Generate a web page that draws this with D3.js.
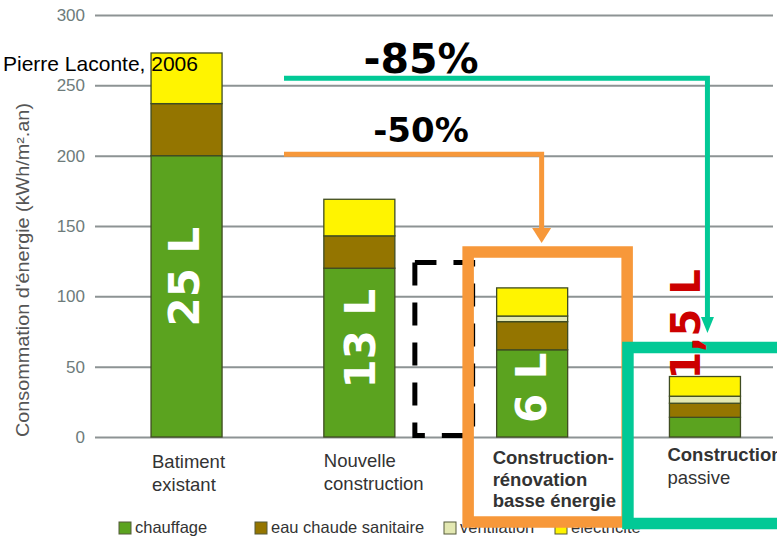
<!DOCTYPE html>
<html>
<head>
<meta charset="utf-8">
<script src="https://cdn.jsdelivr.net/npm/d3@7"></script>
<style>
  html, body { margin: 0; padding: 0; background: #fff; }
  svg { display: block; }
</style>
</head>
<body>
<svg id="chart" width="777" height="539"></svg>
<script>
// Building types (x categories), split over the lines shown under each bar
const categories = ["Batiment existant", "Nouvelle construction", "Construction-rénovation basse énergie", "Construction passive"];
const categoryLines = [["Batiment", "existant"], ["Nouvelle", "construction"], ["Construction-", "rénovation", "basse énergie"], ["Construction", "passive"]];
const categoryBold = [[false, false], [false, false], [true, true, true], [true, false]];

// Energy use per end use, kWh/m².an
const chauffage   = [200, 120, 62, 14];
const eauChaude   = [37, 23, 20, 10];
const ventilation = [0, 0, 4, 5];
const electricite = [36, 26, 20, 14];

const seriesKeys   = ["chauffage", "eauChaude", "ventilation", "electricite"];
const seriesNames  = ["chauffage", "eau chaude sanitaire", "ventilation", "électricité"];
const seriesColors = ["#5ba31f", "#947500", "#e3e8b2", "#fff400"];

// Heating-oil equivalent written on each bar, and where along the bar (kWh/m².an) it is centred
const litreLabels = ["25 L", "13 L", "6 L", "1,5 L"];
const litreLabelAt = [114, 70, 35, 80];

// Y axis ticks
const yTicks = [0, 50, 100, 150, 200, 250, 300];

// Reduction annotations
const reductionLabels = ["-85%", "-50%"];
const reductionLevels = [255, 201];   // height of the horizontal leader, kWh/m².an

const svg = d3.select("#chart");

const y = d3.scaleLinear().domain([0, 300]).range([437, 15]);
const x = d3.scaleBand().domain(categories)
  .range([99.2, 792.3]).paddingInner(0.589).paddingOuter(0.3);

const ORANGE = "#f7983a";
const TEAL = "#02c996";

// ---- grid + y axis ----
const axis = d3.axisLeft(y).tickValues(yTicks).tickSize(-678).tickPadding(10).tickFormat(d3.format("d"));
const gAxis = svg.append("g").attr("transform", "translate(95,0)").call(axis);
gAxis.select(".domain").remove();
gAxis.selectAll(".tick line").attr("stroke", "#8d9394").attr("stroke-width", 2);
gAxis.selectAll(".tick text")
  .attr("fill", "#6d7b7b")
  .style("font-family", "'Liberation Sans', Arial, sans-serif")
  .style("font-size", "17px");

svg.append("text")
  .attr("transform", `translate(29,270) rotate(-90)`)
  .attr("text-anchor", "middle")
  .attr("textLength", 334)
  .attr("lengthAdjust", "spacingAndGlyphs")
  .style("font-family", "'Liberation Sans', Arial, sans-serif")
  .style("font-size", "18px")
  .attr("fill", "#555")
  .text("Consommation d'énergie (kWh/m².an)");

// ---- stacked bars ----
const table = categories.map((c, i) => ({
  cat: c, chauffage: chauffage[i], eauChaude: eauChaude[i],
  ventilation: ventilation[i], electricite: electricite[i]
}));
const stacked = d3.stack().keys(seriesKeys)(table);

svg.append("g").selectAll("g")
  .data(stacked)
  .join("g")
  .attr("fill", (d, i) => seriesColors[i])
  .selectAll("rect")
  .data(d => d.filter(p => p[1] - p[0] > 0))
  .join("rect")
  .attr("x", d => x(d.data.cat))
  .attr("width", x.bandwidth())
  .attr("y", d => y(d[1]))
  .attr("height", d => y(d[0]) - y(d[1]))
  .attr("stroke", "#3f4c22")
  .attr("stroke-width", 1.3);

// ---- category labels ----
const catG = svg.append("g")
  .style("font-family", "'Liberation Sans', Arial, sans-serif")
  .style("font-size", "18.5px")
  .attr("fill", "#333");
categories.forEach((c, i) => {
  const top = [468, 467, 464, 461][i];
  const lx = x(c) + [1, 0, -4, -2][i];
  const t = catG.append("text").attr("x", lx).attr("y", top);
  categoryLines[i].forEach((line, k) => {
    t.append("tspan")
      .attr("x", lx)
      .attr("dy", k === 0 ? 0 : (i === 2 ? 21.5 : 23))
      .style("font-weight", categoryBold[i][k] ? "bold" : "normal")
      .text(line);
  });
});

// ---- legend ----
const legendX = [119, 255, 444, 555];
const lg = svg.append("g")
  .style("font-family", "'Liberation Sans', Arial, sans-serif")
  .style("font-size", "16.5px")
  .attr("fill", "#333");
seriesNames.forEach((name, i) => {
  lg.append("rect")
    .attr("x", legendX[i]).attr("y", 522).attr("width", 12).attr("height", 12)
    .attr("fill", seriesColors[i]).attr("stroke", "#555a3a").attr("stroke-width", 1);
  lg.append("text").attr("x", legendX[i] + 16).attr("y", 533).text(name);
});

// ---- highlight boxes ----
const b2 = x(categories[1]) + x.bandwidth();
const b3 = x(categories[2]);
const b4 = x(categories[3]);

// dashed outline between the 2nd and 3rd bars
svg.append("path")
  .attr("d", `M${b2 + 20},${y(124)} V${y(1)} H${b3 - 24} V${y(124)} H${b2 + 20}`)
  .attr("fill", "none").attr("stroke", "#000").attr("stroke-width", 5)
  .attr("stroke-dasharray", "23,17");

// orange frame around the low-energy bar
svg.append("rect")
  .attr("x", b3 - 28.5).attr("y", 252)
  .attr("width", 159).attr("height", 270)
  .attr("fill", "none").attr("stroke", ORANGE).attr("stroke-width", 11.5);

// teal frame around the passive bar
svg.append("rect")
  .attr("x", b4 - 41.5).attr("y", 347.5)
  .attr("width", 200).attr("height", 176)
  .attr("fill", "none").attr("stroke", TEAL).attr("stroke-width", 11.5);

// ---- litre labels (drawn over the frames) ----
const labelShift = [-3, 0, -2, -20];
const labelSize = [42, 42, 42, 40];
svg.append("g").selectAll("text")
  .data(litreLabels)
  .join("text")
  .attr("transform", (d, i) => {
    const cx = x(categories[i]) + x.bandwidth() / 2 + labelShift[i] + 15.5;
    return `translate(${cx},${y(litreLabelAt[i])}) rotate(-90)`;
  })
  .attr("text-anchor", "middle")
  .style("font-family", "'DejaVu Sans', sans-serif")
  .style("font-weight", "bold")
  .style("font-size", (d, i) => labelSize[i] + "px")
  .attr("fill", (d, i) => i === 3 ? "#cc0000" : "#ffffff")
  .text(d => d);

// ---- reduction arrows ----
function arrow(x0, x1, yLevel, tipY, color, headW, headH) {
  const g = svg.append("g");
  g.append("path")
    .attr("d", `M${x0},${yLevel} H${x1} V${tipY - headH + 1}`)
    .attr("fill", "none").attr("stroke", color).attr("stroke-width", 5);
  g.append("path")
    .attr("d", `M${x1 - headW / 2},${tipY - headH} L${x1 + headW / 2},${tipY - headH} L${x1},${tipY} Z`)
    .attr("fill", color);
}
arrow(284, b4 + 38, y(reductionLevels[0]), 333, TEAL, 13, 16);
arrow(284, b3 + 45, y(reductionLevels[1]), 243, ORANGE, 19, 15);

const pctG = svg.append("g")
  .style("font-family", "'DejaVu Sans', sans-serif")
  .style("font-weight", "bold")
  .attr("fill", "#000")
  .attr("text-anchor", "middle");
pctG.append("text").attr("x", 421).attr("y", 73).style("font-size", "41px").text(reductionLabels[0]);
pctG.append("text").attr("x", 421).attr("y", 141.5).style("font-size", "34px").text(reductionLabels[1]);

// ---- source ----
svg.append("text")
  .attr("x", 3).attr("y", 71)
  .style("font-family", "'Liberation Sans', Arial, sans-serif")
  .style("font-size", "21px")
  .attr("fill", "#000")
  .text("Pierre Laconte, 2006");
</script>
</body>
</html>
